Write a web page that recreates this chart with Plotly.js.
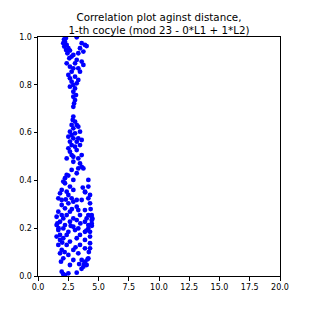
<!DOCTYPE html>
<html><head><meta charset="utf-8">
<script src="https://cdn.plot.ly/plotly-3.0.1.min.js"></script>
<style>html,body{margin:0;padding:0;background:#fff}#chart{width:311px;height:311px}</style>
</head><body><div id="chart"></div>
<script>
const titleText = "Correlation plot aginst distance,<br>1-th cocyle (mod 23 - 0*L1 + 1*L2)";
const xTicks = [0, 2.5, 5, 7.5, 10, 12.5, 15, 17.5, 20];
const yTicks = [0, 0.2, 0.4, 0.6, 0.8, 1.0];

// upper lobe (y > 0.49)
const xUpper = [2.23,2.37,2.09,2.17,2.32,2.51,2.43,2.64,3.20,3.61,3.88,4.02,3.47,3.75,3.33,2.92,2.78,2.59,3.20,3.06,3.61,3.75,2.37,2.64,2.92,3.33,3.47,2.78,2.51,2.64,3.06,3.33,2.78,2.92,3.20,2.64,3.06,2.92,3.14,2.92,3.06,2.98,2.92,2.92,2.87,3.06,2.78,3.20,2.92,3.33,2.64,2.78,3.06,3.47,2.51,2.92,3.33,2.64,3.20,3.61,2.78,2.51,3.06,3.47,2.64,3.20,2.78,3.61,2.37,2.92,3.33,2.15,2.30];
const yUpper = [0.980,0.967,0.974,0.960,0.946,0.953,0.932,0.943,0.999,0.974,0.967,0.962,0.953,0.939,0.932,0.925,0.918,0.911,0.904,0.890,0.897,0.883,0.890,0.876,0.869,0.869,0.855,0.855,0.841,0.827,0.834,0.820,0.813,0.799,0.806,0.792,0.785,0.771,0.757,0.750,0.736,0.722,0.708,0.667,0.653,0.646,0.632,0.632,0.618,0.625,0.604,0.590,0.597,0.604,0.583,0.576,0.576,0.562,0.562,0.569,0.548,0.534,0.541,0.548,0.520,0.527,0.506,0.506,0.492,0.499,0.492,0.990,0.995];

// lower lobe (y < 0.49)
const xLower = [2.92,3.47,3.61,3.33,3.75,2.78,2.37,3.20,2.23,2.92,2.09,2.23,4.16,2.64,4.16,1.96,2.37,2.92,3.88,1.82,2.51,4.30,1.68,1.96,2.78,3.20,3.61,4.16,1.96,2.51,2.92,4.30,2.23,3.20,1.68,2.64,3.33,3.88,1.96,2.37,3.47,4.16,4.44,1.54,2.09,2.92,4.02,4.44,1.82,2.64,3.20,3.88,4.44,1.54,2.23,2.92,4.16,2.09,3.33,4.16,1.68,2.51,3.06,3.88,4.30,1.82,2.37,3.47,1.54,2.09,3.20,4.30,1.82,2.64,3.88,1.68,2.37,3.47,4.30,1.96,2.92,3.88,4.30,1.82,2.51,3.33,2.09,2.92,3.61,4.16,2.64,3.75,4.02,1.96,2.09,2.23,2.51,3.20,3.90,4.10,3.60,3.80,2.30,2.80,3.50,4.00,2.00,3.10,4.45,4.40,1.60,1.70,3.70,3.90,2.50,4.35,4.50,1.90,2.20,3.40,4.20,2.70];
const yLower = [0.478,0.471,0.457,0.450,0.450,0.444,0.423,0.430,0.409,0.402,0.395,0.388,0.402,0.374,0.374,0.360,0.353,0.360,0.353,0.346,0.339,0.339,0.325,0.318,0.325,0.318,0.318,0.325,0.297,0.304,0.311,0.304,0.283,0.290,0.269,0.269,0.276,0.276,0.255,0.255,0.255,0.255,0.255,0.248,0.241,0.241,0.241,0.234,0.227,0.227,0.234,0.227,0.220,0.213,0.213,0.206,0.213,0.199,0.199,0.199,0.192,0.185,0.192,0.185,0.185,0.172,0.172,0.172,0.165,0.158,0.158,0.165,0.151,0.144,0.151,0.130,0.130,0.130,0.137,0.109,0.109,0.116,0.116,0.095,0.088,0.095,0.074,0.067,0.067,0.074,0.046,0.039,0.046,0.018,0.008,0.004,0.011,0.014,0.060,0.070,0.030,0.050,0.320,0.280,0.220,0.190,0.140,0.120,0.210,0.250,0.220,0.200,0.370,0.350,0.420,0.280,0.240,0.060,0.100,0.050,0.100,0.210];

const xs = xUpper.concat(xLower);
const ys = yUpper.concat(yLower);

const font = {family: "DejaVu Sans", size: 8, color: "#000"};
const axisCommon = {
  showgrid: false, zeroline: false, showline: true, mirror: true,
  linecolor: "#000", linewidth: 1, ticks: "outside", ticklen: 3.5,
  tickwidth: 1, tickcolor: "#000", tickfont: font, tickformat: ".1f"
};
Plotly.newPlot("chart", [{
  x: xs, y: ys, type: "scatter", mode: "markers",
  marker: {color: "#0000ff", size: 4.8, line: {width: 0}},
  hoverinfo: "skip"
}], {
  width: 311, height: 311,
  margin: {l: 38, r: 31, t: 37, b: 35},
  paper_bgcolor: "#fff", plot_bgcolor: "#fff",
  showlegend: false,
  title: {text: titleText, font: {family: "DejaVu Sans", size: 10.3, color: "#000"},
          xref: "paper", x: 0.5, xanchor: "center", yref: "container", y: 0.933, yanchor: "top"},
  xaxis: Object.assign({}, axisCommon, {range: [0, 20], tickvals: xTicks}),
  yaxis: Object.assign({}, axisCommon, {range: [0, 1], tickvals: yTicks})
}, {staticPlot: true, displayModeBar: false});
</script></body></html>
